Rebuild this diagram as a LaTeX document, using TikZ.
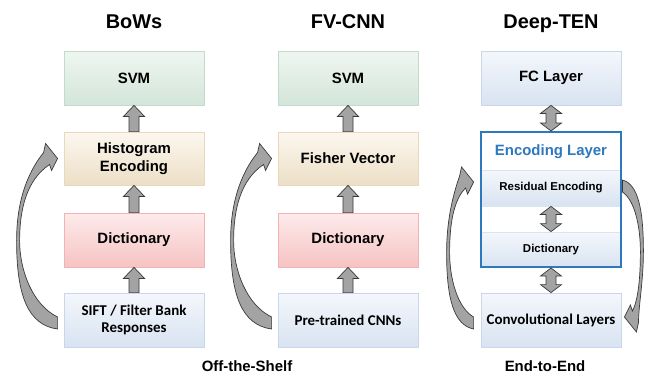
\documentclass[tikz,border=0pt]{standalone}
\usepackage{fontspec}
\setmainfont{Liberation Sans}
\newfontfamily\calfont{Carlito}
\usepackage{tikz}
\usetikzlibrary{calc,positioning,shadings}

\definecolor{grntop}{HTML}{EFF6F1}
\definecolor{grnbot}{HTML}{D3E5D9}
\definecolor{grnline}{HTML}{C3DBCA}
\definecolor{begtop}{HTML}{FCF7EF}
\definecolor{begbot}{HTML}{ECDFC6}
\definecolor{begline}{HTML}{E9D9BC}
\definecolor{pnktop}{HTML}{FDEBEB}
\definecolor{pnkbot}{HTML}{F6C3C3}
\definecolor{pnkline}{HTML}{F2B3B3}
\definecolor{blutop}{HTML}{F4F7FC}
\definecolor{blubot}{HTML}{D8E3F1}
\definecolor{bluline}{HTML}{C8D7EC}
\definecolor{encblue}{HTML}{2E78BE}
\definecolor{arrfill}{HTML}{A3A3A3}
\definecolor{arrline}{HTML}{3A3A3A}

\newcommand{\uparr}[2]{%
\filldraw[blockarr] let \p1=(#1.north), \p2=(#2.south) in
 (\x1-5bp,\y1) -- (\x1-5bp,\y2-11bp) -- (\x1-10.5bp,\y2-11bp) -- (\x1,\y2)
 -- (\x1+10.5bp,\y2-11bp) -- (\x1+5bp,\y2-11bp) -- (\x1+5bp,\y1) -- cycle;}

\newcommand{\dblarr}[2]{%
\filldraw[blockarr] let \p1=(#1.north), \p2=(#2.south) in
 (\x1,\y1) -- (\x1-10.5bp,\y1+8bp) -- (\x1-5bp,\y1+8bp) -- (\x1-5bp,\y2-8bp)
 -- (\x1-10.5bp,\y2-8bp) -- (\x1,\y2) -- (\x1+10.5bp,\y2-8bp) -- (\x1+5bp,\y2-8bp)
 -- (\x1+5bp,\y1+8bp) -- (\x1+10.5bp,\y1+8bp) -- cycle;}

\newcommand{\bendarrow}[4]{%
\filldraw[bendarr] let \p1=(#1), \p2=(#2), \n1={\y2-\y1} in
 (\x1,{\y1-(#3)*6bp})
 .. controls ({\x1+(#3)*0.61*#4bp},{\y1+0.11*\n1}) and ({\x1+(#3)*(#4-3)*1bp},{\y1+0.32*\n1}) ..
 ({\x1+(#3)*(#4-3)*1bp},{\y1+0.5*\n1})
 .. controls ({\x1+(#3)*(#4-3)*1bp},{\y1+0.69*\n1}) and ({\x1+(#3)*0.76*#4bp},{\y1+0.87*\n1}) ..
 ({\x2+(#3)*8bp},{\y2+(#3)*6bp})
 -- ({\x2+(#3)*6bp},{\y2+(#3)*12bp})
 -- (\x2,\y2)
 -- ({\x2+(#3)*12bp},{\y2-(#3)*15bp})
 -- ({\x2+(#3)*14bp},{\y2-(#3)*6bp})
 .. controls ({\x1+(#3)*0.78*#4bp},{\y1+0.9*\n1}) and ({\x1+(#3)*#4bp},{\y1+0.72*\n1}) ..
 ({\x1+(#3)*#4bp},{\y1+0.5*\n1})
 .. controls ({\x1+(#3)*#4bp},{\y1+0.17*\n1}) and ({\x1+(#3)*0.73*#4bp},{\y1+(#3)*2bp}) ..
 (\x1,{\y1+(#3)*6bp}) -- cycle;}

\tikzset{
 box/.style={minimum width=140bp, minimum height=54bp, inner sep=0pt, align=center,
  line width=0.8bp, font=\fontsize{15}{17.5}\selectfont\bfseries},
 greenbox/.style={box, draw=grnline, top color=grntop, bottom color=grnbot},
 beigebox/.style={box, draw=begline, top color=begtop, bottom color=begbot},
 pinkbox/.style={box, draw=pnkline, top color=pnktop, bottom color=pnkbot},
 bluebox/.style={box, draw=bluline, top color=blutop, bottom color=blubot},
 calbox/.style={bluebox, font=\fontsize{15}{17}\selectfont\calfont\bfseries},
 subbox/.style={box, minimum height=36bp, draw=bluline!70, top color=blutop, bottom color=blubot,
  font=\fontsize{11.5}{14}\selectfont\bfseries},
 encbox/.style={minimum width=140bp, minimum height=135bp, inner sep=0pt, draw=encblue, line width=2bp},
 title/.style={anchor=base, font=\fontsize{20}{24}\selectfont\bfseries},
 tag/.style={anchor=base, font=\fontsize{15}{18}\selectfont\bfseries},
 blockarr/.style={fill=arrfill, draw=arrline, line width=0.7bp, line join=miter},
 bendarr/.style={fill=arrfill, draw=arrline, line width=0.7bp, line join=miter}
}

\begin{document}
\begin{tikzpicture}[x=1bp, y=-1bp]
\fill[white] (0,0) rectangle (648,375);
\useasboundingbox (0,0) rectangle (648,375);

\node[title] (bowsT) at (134,28) {BoWs};
\node[title] (fvT) at (348,28) {FV-CNN};
\node[title] (deepT) at (551,28) {Deep-TEN};

\node[greenbox] (svmA) at (134,78) {SVM};
\node[beigebox, minimum height=53bp] (histA) at (134,158.5) {Histogram\\Encoding};
\node[pinkbox] (dictA) at (134,240) {Dictionary};
\node[calbox] (siftA) at (134,320) {SIFT / Filter Bank\\Responses};

\node[greenbox] (svmB) at (348,78) {SVM};
\node[beigebox, minimum height=53bp] (fisherB) at (348,158.5) {Fisher Vector};
\node[pinkbox] (dictB) at (348,240) {Dictionary};
\node[calbox] (cnnB) at (348,320) {Pre-trained CNNs};

\node[bluebox] (fcC) at (551,78) {FC Layer};
\node[subbox] (resC) at (551,188) {Residual Encoding};
\node[subbox, minimum height=35bp] (dictC) at (551,249.5) {Dictionary};
\node[encbox] (encC) at (551,199.5) {};
\node[text=encblue, font=\fontsize{15}{18}\selectfont\bfseries] (encT) at (551,152) {Encoding Layer};
\node[calbox] (convC) at (551,320) {Convolutional Layers};

\node[tag] (offT) at (247,371) {Off-the-Shelf};
\node[tag] (endT) at (545,371) {End-to-End};

\uparr{histA}{svmA}
\uparr{dictA}{histA}
\uparr{siftA}{dictA}
\uparr{fisherB}{svmB}
\uparr{dictB}{fisherB}
\uparr{cnnB}{dictB}
\dblarr{encC}{fcC}
\dblarr{dictC}{resC}
\dblarr{convC}{encC}

\bendarrow{$(siftA.west)+(-6,3)$}{$(histA.west)+(-6,0)$}{-1}{41}
\bendarrow{$(cnnB.west)+(-6,3)$}{$(fisherB.west)+(-6,0)$}{-1}{41}
\bendarrow{$(convC.west)+(-7,3)$}{$(resC.west)+(-7,-6)$}{-1}{27}
\bendarrow{$(resC.east)+(1,-2)$}{$(convC.east)+(3,-3)$}{1}{21}
\end{tikzpicture}
\end{document}
